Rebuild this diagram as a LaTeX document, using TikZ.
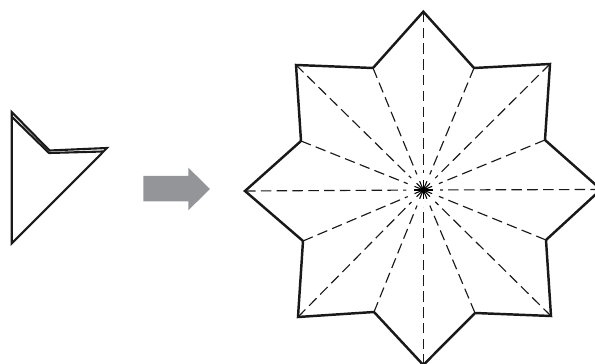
\documentclass[tikz,border=0pt]{standalone}
\usetikzlibrary{calc}
\definecolor{arrowgray}{HTML}{939598}
\tikzset{
  outline/.style={line width=1.4pt, black!90, line join=miter},
  foldline/.style={line width=0.65pt, black!90, dash pattern=on 6pt off 3pt, shorten >=9.6pt},
  rayline/.style={line width=0.6pt, black}
}
\begin{document}
\begin{tikzpicture}[x=0.02cm, y=-0.02cm]
  \clip (0,0) rectangle (595,364);

  %% Left: folded paper
  \coordinate (apex) at (11.7,112);
  \coordinate (notch) at (49.5,150.5);
  \coordinate (tip) at (107,148);
  \coordinate (foot) at (11.7,243.5);
  \draw[line width=1.2pt, black!90, line join=miter] (apex) -- (notch) -- (tip) -- (foot) -- cycle;
  \draw[line width=1.2pt, black!90] (12.5,117.5) -- (49,153) -- (103,151.5);

  %% Center: arrow
  \fill[arrowgray] (143.3,176) -- (188.3,176) -- (188.3,167.7) -- (210,189)
    -- (188.3,210.3) -- (188.3,201.3) -- (143.3,201.3) -- cycle;

  %% Right: unfolded star
  \coordinate (hub) at (423.3,190);
  \coordinate (v1) at (423.3,11.7);
  \coordinate (v2) at (474,68);
  \coordinate (v3) at (550,64);
  \coordinate (v4) at (545,140);
  \coordinate (v5) at (601,189.5);
  \coordinate (v6) at (546,240);
  \coordinate (v7) at (551,316);
  \coordinate (v8) at (475,313);
  \coordinate (v9) at (423.3,365);
  \coordinate (v10) at (374,312);
  \coordinate (v11) at (298,317);
  \coordinate (v12) at (303,241);
  \coordinate (v13) at (245,191);
  \coordinate (v14) at (301,141);
  \coordinate (v15) at (296,65);
  \coordinate (v16) at (373,68);

  % Fold lines
  \foreach \i in {1,...,16}
    \draw[foldline] (v\i) -- (hub);

  % Outline
  \draw[outline] (v1) -- (v2) -- (v3) -- (v4) -- (v5) -- (v6) -- (v7) -- (v8)
    -- (v9) -- (v10) -- (v11) -- (v12) -- (v13) -- (v14) -- (v15) -- (v16) -- cycle;

  % Rays at the hub
  \foreach \a in {0,22.5,...,337.5}
    \draw[rayline] (hub) -- ++(\a:9.5);
  \fill[black] (hub) circle (2.8);
\end{tikzpicture}
\end{document}
